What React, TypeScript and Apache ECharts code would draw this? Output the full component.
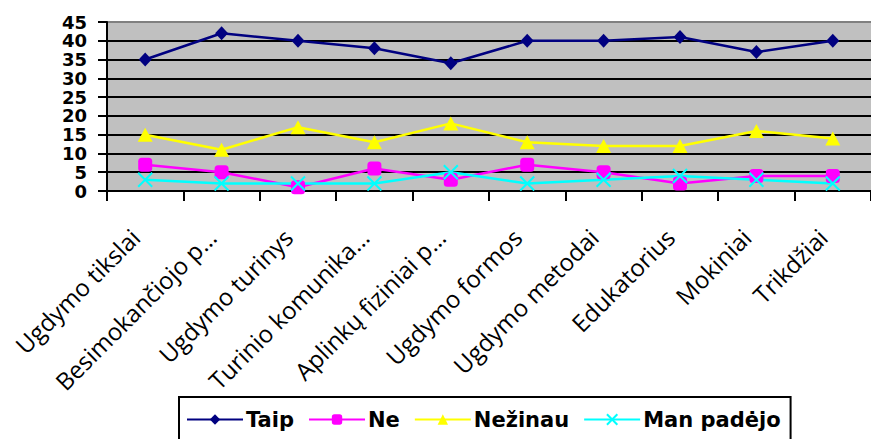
import React, { useEffect, useRef } from "react";
import * as echarts from "echarts";

const categories = [
  "Ugdymo tikslai",
  "Besimokančiojo p…",
  "Ugdymo turinys",
  "Turinio komunika…",
  "Aplinkų fiziniai p…",
  "Ugdymo formos",
  "Ugdymo metodai",
  "Edukatorius",
  "Mokiniai",
  "Trikdžiai",
];
const taip = [35, 42, 40, 38, 34, 40, 40, 41, 37, 40];
const ne = [7, 5, 1, 6, 3, 7, 5, 2, 4, 4];
const nezinau = [15, 11, 17, 13, 18, 13, 12, 12, 16, 14];
const manPadejo = [3, 2, 2, 2, 5, 2, 3, 4, 3, 2];
const seriesNames = ["Taip", "Ne", "Nežinau", "Man padėjo"];
const yTicks = { min: 0, max: 45, interval: 5 };

export default function App() {
  const ref = useRef<HTMLDivElement>(null);
  useEffect(() => {
    if (!ref.current) return;
    const chart = echarts.init(ref.current, undefined, { renderer: "svg" });
    const lineBase = (name: string, data: number[], color: string, symbol: string, size: any, extra: any = {}) => ({
      name,
      type: "line",
      data,
      symbol,
      symbolSize: size,
      showSymbol: true,
      lineStyle: { color, width: 2.5 },
      itemStyle: { color, ...extra },
      z: 3,
    });
    chart.setOption({
      animation: false,
      backgroundColor: "#ffffff",
      grid: {
        left: 107,
        top: 22,
        width: 769,
        height: 169,
        show: true,
        backgroundColor: "#c0c0c0",
        borderWidth: 0,
      },
      xAxis: {
        type: "category",
        data: categories,
        boundaryGap: true,
        axisLine: { show: true, lineStyle: { color: "#000", width: 2 } },
        axisTick: { show: true, length: 10, lineStyle: { color: "#000", width: 2 } },
        axisLabel: {
          interval: 0,
          rotate: 45,
          margin: 32,
          padding: [0, 14, 0, 0],
          color: "#000",
          fontFamily: "Open Sans",
          fontSize: 24,
          hideOverlap: false,
        },
        splitLine: { show: false },
      },
      yAxis: {
        type: "value",
        min: yTicks.min,
        max: yTicks.max,
        interval: yTicks.interval,
        axisLine: { show: true, lineStyle: { color: "#000", width: 2 } },
        axisTick: { show: true, length: 9, lineStyle: { color: "#000", width: 2 } },
        axisLabel: {
          margin: 20,
          color: "#000",
          fontFamily: "DejaVu Sans",
          fontWeight: "bold",
          fontSize: 18,
          lineHeight: 14,
          showMinLabel: true,
          showMaxLabel: true,
          hideOverlap: false,
        },
        splitLine: {
          show: true,
          lineStyle: {
            color: ["#000", "#000", "#000", "#000", "#000", "#000", "#000", "#000", "#000", "#808080"],
            width: 2,
          },
        },
      },
      legend: {
        data: seriesNames,
        left: 179,
        top: 397,
        orient: "horizontal",
        itemWidth: 56,
        itemHeight: 13,
        itemGap: 14,
        padding: [12, 10, 30, 7],
        borderColor: "#000",
        borderWidth: 2,
        backgroundColor: "#fff",
        textStyle: {
          color: "#000",
          fontFamily: "DejaVu Sans",
          fontWeight: "bold",
          fontSize: 21,
          padding: [0, 0, 0, -2],
        },
      },
      series: [
        lineBase(seriesNames[0], taip, "#000080", "diamond", [13, 14]),
        lineBase(seriesNames[1], ne, "#ff00ff", "roundRect", 14),
        lineBase(seriesNames[2], nezinau, "#ffff00", "triangle", [15, 14]),
        lineBase(seriesNames[3], manPadejo, "#00ffff", "path://M0,0L10,10M10,0L0,10", 14, {
          borderColor: "#00ffff",
          borderWidth: 2,
        }),
      ],
    });
    return () => chart.dispose();
  }, []);
  return (
    <div
      ref={ref}
      style={{ position: "absolute", left: 0, top: 0, width: 871, height: 439 }}
    />
  );
}
